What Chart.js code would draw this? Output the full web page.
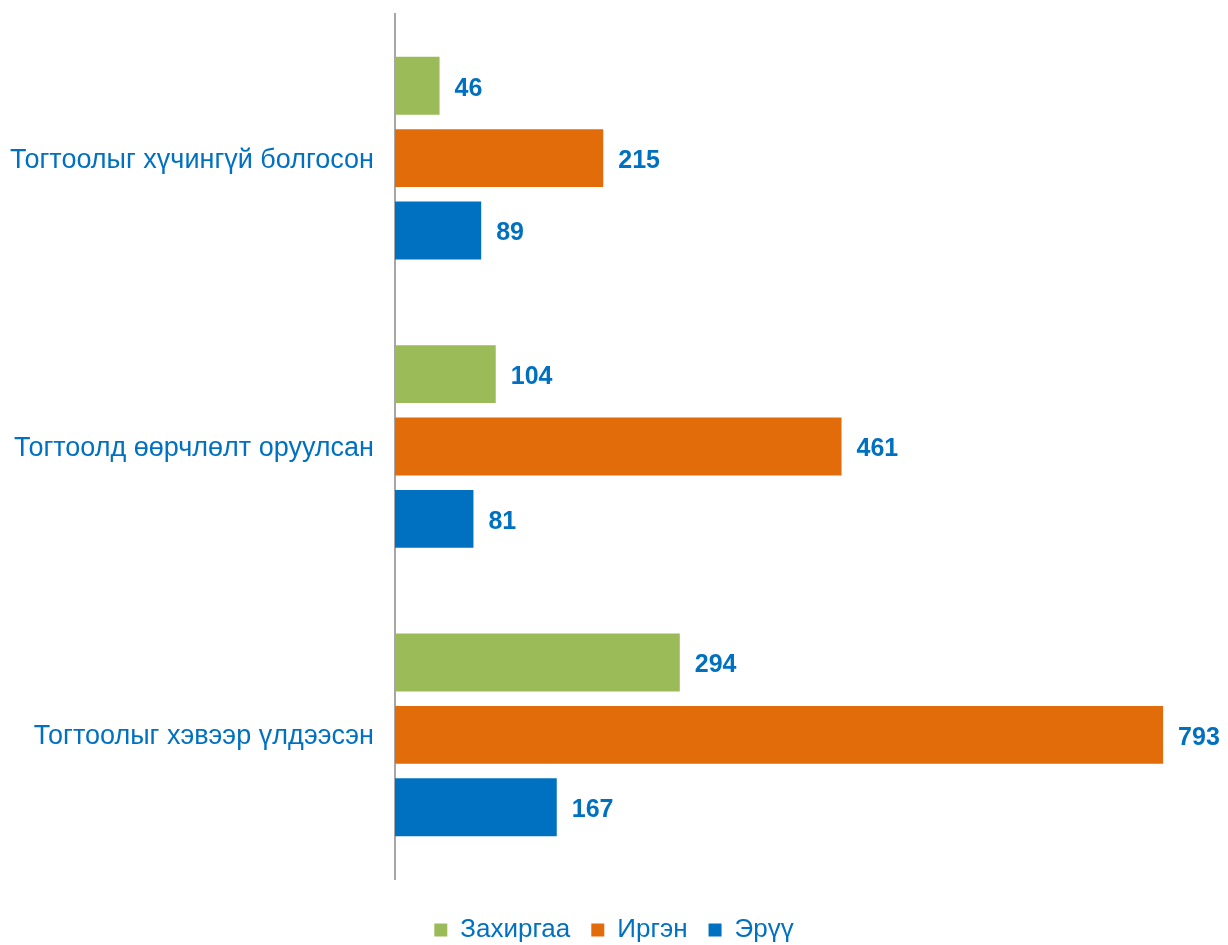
<!DOCTYPE html>
<html>
<head>
<meta charset="utf-8">
<script src="https://cdn.jsdelivr.net/npm/chart.js@4/dist/chart.umd.min.js"></script>
<style>
html,body{margin:0;padding:0;background:#fff;}
#wrap{width:1228px;height:945px;position:relative;}
</style>
</head>
<body>
<div id="wrap"><canvas id="c" width="1228" height="945"></canvas></div>
<script>
const categories = ["Тогтоолыг хүчингүй болгосон", "Тогтоолд өөрчлөлт оруулсан", "Тогтоолыг хэвээр үлдээсэн"];
const seriesNames = ["Захиргаа", "Иргэн", "Эрүү"];
const zakhirgaa = [46, 104, 294];
const irgen = [215, 461, 793];
const eruu = [89, 81, 167];
const colors = ["#9BBB59", "#E36C0A", "#0070C0"];
const textColor = "#0070C0";
const FONT = "'Liberation Sans', Arial, sans-serif";

const valueLabels = {
  id: 'valueLabels',
  afterDatasetsDraw(chart) {
    const ctx = chart.ctx;
    ctx.save();
    ctx.font = "bold 25px " + FONT;
    ctx.fillStyle = textColor;
    ctx.textBaseline = "middle";
    ctx.textAlign = "left";
    chart.data.datasets.forEach((ds, i) => {
      const meta = chart.getDatasetMeta(i);
      meta.data.forEach((bar, j) => {
        ctx.fillText(String(ds.data[j]), bar.x + 15, bar.y + 3);
      });
    });
    ctx.restore();
  }
};

new Chart(document.getElementById('c'), {
  type: 'bar',
  data: {
    labels: categories,
    datasets: [
      { label: seriesNames[0], data: zakhirgaa, backgroundColor: colors[0] },
      { label: seriesNames[1], data: irgen, backgroundColor: colors[1] },
      { label: seriesNames[2], data: eruu, backgroundColor: colors[2] }
    ]
  },
  options: {
    indexAxis: 'y',
    responsive: false,
    animation: false,
    categoryPercentage: 0.753,
    barPercentage: 0.8,
    layout: { padding: { top: 14, bottom: -8, left: 0, right: 0 } },
    scales: {
      x: { display: false, min: 0, max: 860 },
      y: {
        grid: { display: false, drawTicks: false },
        border: { display: true, color: '#A6A6A6', width: 2 },
        ticks: { color: textColor, font: { family: FONT, size: 27 }, padding: 21, labelOffset: 2 },
        afterFit(scale) { scale.width = 395; scale.paddingTop = 0; scale.paddingBottom = 0; }
      }
    },
    plugins: {
      legend: {
        position: 'bottom',
        title: { display: true, text: ' ', font: { size: 10 }, padding: { top: 0, bottom: 5 } },
        labels: {
          color: textColor,
          font: { family: FONT, size: 26 },
          boxWidth: 13, boxHeight: 13,
          padding: 21
        }
      },
      tooltip: { enabled: false }
    }
  },
  plugins: [valueLabels]
});
</script>
</body>
</html>
